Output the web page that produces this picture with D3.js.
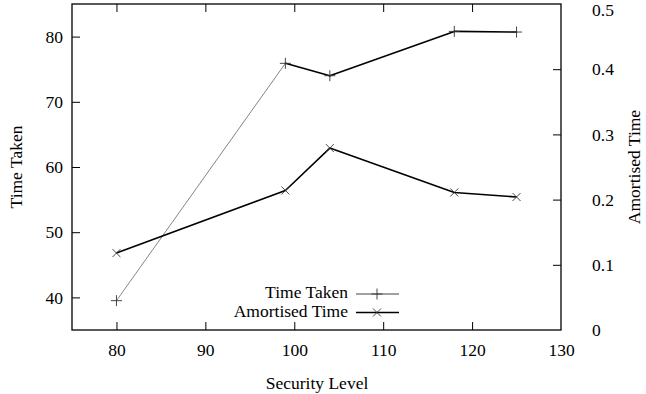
<!DOCTYPE html>
<html>
<head>
<meta charset="utf-8">
<script src="https://cdn.jsdelivr.net/npm/d3@7"></script>
<style>
  html, body { margin: 0; padding: 0; background: #fff; }
  svg { display: block; }
  text { font-family: "Liberation Serif", "Times New Roman", serif; font-size: 17.5px; fill: #000; }
</style>
</head>
<body>
<svg id="chart" width="646" height="394"></svg>
<script>
// ---- data ----
const securityLevel = [80, 99, 104, 118, 125];
const timeTaken     = [39.5, 75.9, 74.0, 80.8, 80.7];
const amortisedTime = [0.118, 0.214, 0.279, 0.211, 0.204];
const xTicks  = [80, 90, 100, 110, 120, 130];
const yTicks  = [40, 50, 60, 70, 80];
const y2Ticks = [0, 0.1, 0.2, 0.3, 0.4, 0.5];
const seriesNames = ["Time Taken", "Amortised Time"];

// ---- layout ----
const svg = d3.select("#chart");
const L = 72, R = 561, T = 4, B = 330;
const x  = d3.scaleLinear().domain([75, 130]).range([L, R]);
const y  = d3.scaleLinear().domain([35, 85]).range([B, T]);
const y2 = d3.scaleLinear().domain([0, 0.5]).range([B, T]);
const tickLen = 8;

const g = svg.append("g");
const xAxisB = d3.axisBottom(x).tickValues(xTicks).tickSize(-tickLen).tickPadding(14).tickFormat(d3.format("d"));
const gxb = g.append("g").attr("transform", `translate(0,${B})`).call(xAxisB);
const xAxisT = d3.axisTop(x).tickValues(xTicks.filter(v => v < 130)).tickSize(-tickLen).tickFormat("");
const gxt = g.append("g").attr("transform", `translate(0,${T})`).call(xAxisT);
const yAxisL = d3.axisLeft(y).tickValues(yTicks).tickSize(-tickLen).tickPadding(9).tickFormat(d3.format("d"));
const gyl = g.append("g").attr("transform", `translate(${L},0)`).call(yAxisL);
const yAxisR = d3.axisRight(y2).tickValues(y2Ticks).tickSize(-tickLen).tickPadding(31).tickFormat(d => d === 0 ? "0" : d3.format(".1f")(d));
const gyr = g.append("g").attr("transform", `translate(${R},0)`).call(yAxisR);

[gxb, gxt, gyl, gyr].forEach(a => {
  a.select(".domain").remove();
  a.selectAll(".tick line").attr("stroke", "#000").attr("stroke-width", 1);
  a.selectAll("text").attr("font-family", null).attr("font-size", null).attr("fill", "#000");
});
gyr.selectAll(".tick text").attr("text-anchor", "start").attr("x", 31);
gyr.selectAll(".tick line").attr("x2", -tickLen);
gyr.selectAll(".tick").filter(d => d === 0.5).select("line").remove();
gyr.selectAll(".tick").filter(d => d === 0).select("line").remove();
gyr.selectAll(".tick").filter(d => d === 0.5).select("text").attr("y", 6);
gxb.selectAll(".tick").filter(d => d === 130).select("line").remove();

// frame
svg.append("rect").attr("x", L).attr("y", T).attr("width", R - L).attr("height", B - T)
  .attr("fill", "none").attr("stroke", "#000").attr("stroke-width", 1.3);

// axis titles
svg.append("text").attr("x", (L + R) / 2 + 0.5).attr("y", 385).attr("text-anchor", "middle")
  .attr("dominant-baseline", "middle").text("Security Level");
svg.append("text").attr("transform", `translate(18,${(T + B) / 2}) rotate(-90)`).attr("text-anchor", "middle")
  .attr("dominant-baseline", "middle").text("Time Taken");
svg.append("text").attr("transform", `translate(636,${(T + B) / 2}) rotate(-90)`).attr("text-anchor", "middle")
  .attr("dominant-baseline", "middle").text("Amortised Time");

// ---- series ----
const ttPts = securityLevel.map((s, i) => [x(s), y(timeTaken[i])]);
const amPts = securityLevel.map((s, i) => [x(s), y2(amortisedTime[i])]);

const segs = d3.pairs(ttPts);
svg.append("g").selectAll("line").data(segs).join("line")
  .attr("x1", d => d[0][0]).attr("y1", d => d[0][1])
  .attr("x2", d => d[1][0]).attr("y2", d => d[1][1])
  .attr("stroke", (d, i) => i === 0 ? "#666" : "#000")
  .attr("stroke-width", (d, i) => i === 0 ? 0.8 : 1.6)
  .attr("stroke-linecap", "round");

svg.append("path").attr("d", d3.line()(amPts)).attr("fill", "none")
  .attr("stroke", "#000").attr("stroke-width", 1.6).attr("stroke-linejoin", "round");

const plusPath = (cx, cy, r) => `M${cx - r},${cy}H${cx + r}M${cx},${cy - r}V${cy + r}`;
const crossPath = (cx, cy, r) => `M${cx - r},${cy - r}L${cx + r},${cy + r}M${cx - r},${cy + r}L${cx + r},${cy - r}`;

svg.append("g").selectAll("path").data(ttPts).join("path")
  .attr("d", d => plusPath(d[0], d[1], 5.5)).attr("stroke", "#333").attr("stroke-width", 0.9).attr("fill", "none");
svg.append("g").selectAll("path").data(amPts).join("path")
  .attr("d", d => crossPath(d[0], d[1], 4)).attr("stroke", "#333").attr("stroke-width", 0.9).attr("fill", "none");

// ---- legend ----
const leg = svg.append("g");
const legRows = [294, 312.5];
seriesNames.forEach((name, i) => {
  const yy = legRows[i];
  leg.append("text").attr("x", 348).attr("y", yy).attr("text-anchor", "end")
    .attr("dominant-baseline", "middle").text(name);
  leg.append("line").attr("x1", 356).attr("x2", 399).attr("y1", yy).attr("y2", yy)
    .attr("stroke", i === 0 ? "#444" : "#000").attr("stroke-width", i === 0 ? 1.1 : 1.3);
  leg.append("path").attr("d", i === 0 ? plusPath(377, yy, 5.5) : crossPath(377, yy, 4))
    .attr("stroke", "#333").attr("stroke-width", 0.9).attr("fill", "none");
});
</script>
</body>
</html>
